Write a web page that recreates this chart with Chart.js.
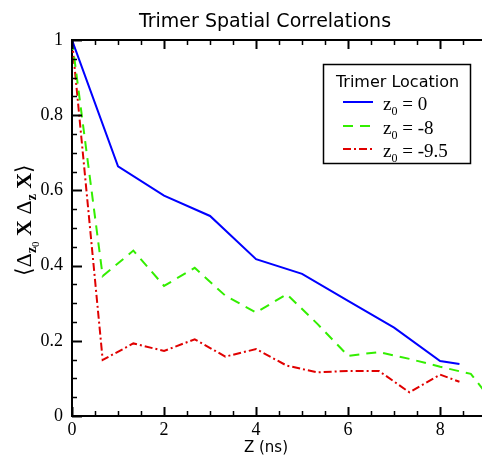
<!DOCTYPE html>
<html>
<head>
<meta charset="utf-8">
<script src="https://cdn.jsdelivr.net/npm/chart.js@4"></script>
<style>
  html, body { margin: 0; padding: 0; background: #fff; }
  #wrap { width: 482px; height: 456px; }
</style>
</head>
<body>
<div id="wrap"><canvas id="grafico" width="482" height="456"></canvas></div>
<script>
// Correlação espacial dos trímeros (Z em ns)
const zLoc0X = [0, 1, 2, 3, 4, 5, 6, 7, 8, 8.42];
const zLoc0Y = [1.0, 0.664, 0.586, 0.532, 0.417, 0.378, 0.306, 0.235, 0.146, 0.138];

const zLoc8X = [0, 0.667, 1.333, 2, 2.667, 3.333, 4, 4.667, 5.333, 6, 6.667, 7.333, 8, 8.667, 9.0];
const zLoc8Y = [1.0, 0.372, 0.440, 0.346, 0.394, 0.320, 0.275, 0.324, 0.245, 0.160, 0.170, 0.152, 0.131, 0.112, 0.060];

const zLoc95X = [0, 0.667, 1.333, 2, 2.667, 3.333, 4, 4.667, 5.333, 6, 6.667, 7.333, 8, 8.42];
const zLoc95Y = [1.0, 0.149, 0.193, 0.173, 0.204, 0.158, 0.178, 0.134, 0.116, 0.120, 0.120, 0.063, 0.110, 0.091];

const rotulos = ["z0 = 0", "z0 = -8", "z0 = -9.5"];
const valoresSub = ["0", "-8", "-9.5"];

const SERIF = "'Liberation Serif', 'Times New Roman', serif";
const SANS = "'DejaVu Sans', sans-serif";

function pares(xs, ys) {
  return xs.map((x, i) => ({ x: x, y: ys[i] }));
}

const estilos = [
  { cor: "#0000ff", dash: [] },
  { cor: "#33ee00", dash: [10, 7] },
  { cor: "#e00000", dash: [8, 3, 2, 3] }
];

// Eixos com ticks internos, borda superior, título, rótulo Y e legenda
const extras = {
  id: "extras",
  afterDraw(chart) {
    const ctx = chart.ctx;
    const a = chart.chartArea;
    const sx = chart.scales.x;
    const sy = chart.scales.y;

    ctx.save();
    ctx.strokeStyle = "#000";

    // borda superior
    ctx.lineWidth = 2;
    ctx.beginPath();
    ctx.moveTo(a.left - 1, a.top);
    ctx.lineTo(a.right, a.top);
    ctx.stroke();

    // ticks do eixo x (baixo e cima)
    for (let v = 0; v <= sx.max + 1e-6; v += 0.5) {
      const px = Math.round(sx.getPixelForValue(v)) + 0.5;
      const major = Math.abs(v / 2 - Math.round(v / 2)) < 1e-6;
      const len = major ? 9 : 5;
      ctx.lineWidth = major ? 2 : 1.5;
      ctx.beginPath();
      ctx.moveTo(px, a.bottom);
      ctx.lineTo(px, a.bottom - len);
      ctx.moveTo(px, a.top);
      ctx.lineTo(px, a.top + len);
      ctx.stroke();
    }

    // ticks do eixo y
    for (let k = 0; k <= 20; k++) {
      const v = k * 0.05;
      const py = Math.round(sy.getPixelForValue(v)) + 0.5;
      const major = k % 4 === 0;
      const len = major ? 10 : 5;
      ctx.lineWidth = major ? 2 : 1.5;
      ctx.beginPath();
      ctx.moveTo(a.left, py);
      ctx.lineTo(a.left + len, py);
      ctx.stroke();
    }

    // título
    ctx.fillStyle = "#000";
    ctx.font = "19px " + SANS;
    ctx.textAlign = "center";
    ctx.textBaseline = "alphabetic";
    ctx.fillText("Trimer Spatial Correlations", 265, 27);

    // título do eixo x
    ctx.font = "15px " + SANS;
    ctx.fillText("Z (ns)", 266, 452);

    // rótulo do eixo y: <Δz0 X Δz X>
    const partes = [
      { t: "\u27E8", f: "22px " + SERIF, dy: 0 },
      { t: "\u0394", f: "22px " + SERIF, dy: 0 },
      { t: "z", f: "bold 14px " + SERIF, dy: 5 },
      { t: "0", f: "11px " + SERIF, dy: 8 },
      { t: " X ", f: "bold 22px " + SERIF, dy: 0 },
      { t: "\u0394", f: "22px " + SERIF, dy: 0 },
      { t: "z", f: "bold 14px " + SERIF, dy: 5 },
      { t: " X", f: "bold 22px " + SERIF, dy: 0 },
      { t: "\u27E9", f: "22px " + SERIF, dy: 0 }
    ];
    let total = 0;
    partes.forEach(p => { ctx.font = p.f; p.w = ctx.measureText(p.t).width; total += p.w; });
    ctx.translate(31, 220);
    ctx.rotate(-Math.PI / 2);
    ctx.textAlign = "left";
    let cx = -total / 2;
    partes.forEach(p => {
      ctx.font = p.f;
      ctx.fillText(p.t, cx, p.dy);
      cx += p.w;
    });
    ctx.setTransform(1, 0, 0, 1, 0, 0);

    // legenda
    const bx = 323, by = 64, bw = 147, bh = 99;
    ctx.fillStyle = "#fff";
    ctx.fillRect(bx, by, bw, bh);
    ctx.lineWidth = 1.5;
    ctx.strokeStyle = "#000";
    ctx.strokeRect(bx + 0.5, by + 0.5, bw, bh);

    ctx.fillStyle = "#000";
    ctx.font = "16px " + SANS;
    ctx.textAlign = "center";
    ctx.fillText("Trimer Location", bx + bw / 2 + 1, 87);

    const linhasY = [102, 126, 149];
    chart.data.datasets.forEach((ds, i) => {
      const y = linhasY[i];
      ctx.strokeStyle = ds.borderColor;
      ctx.lineWidth = 2;
      ctx.setLineDash(ds.borderDash || []);
      ctx.beginPath();
      ctx.moveTo(343, y);
      ctx.lineTo(373, y);
      ctx.stroke();
      ctx.setLineDash([]);

      ctx.fillStyle = "#000";
      ctx.textAlign = "left";
      let tx = 383;
      ctx.font = "19px " + SERIF;
      ctx.fillText("z", tx, y + 8);
      tx += ctx.measureText("z").width;
      ctx.font = "12px " + SERIF;
      ctx.fillText("0", tx, y + 13);
      tx += ctx.measureText("0").width;
      ctx.font = "19px " + SERIF;
      ctx.fillText(" = " + valoresSub[i], tx, y + 8);
    });

    ctx.restore();
  }
};

const ctx = document.getElementById("grafico");
new Chart(ctx, {
  type: "line",
  data: {
    datasets: [
      { label: rotulos[0], data: pares(zLoc0X, zLoc0Y) },
      { label: rotulos[1], data: pares(zLoc8X, zLoc8Y) },
      { label: rotulos[2], data: pares(zLoc95X, zLoc95Y) }
    ].map((d, i) => Object.assign(d, {
      borderColor: estilos[i].cor,
      borderDash: estilos[i].dash,
      borderWidth: 2,
      pointRadius: 0,
      tension: 0,
      fill: false
    }))
  },
  options: {
    responsive: false,
    animation: false,
    layout: { padding: { top: 40, left: 0, right: 0, bottom: 0 } },
    plugins: { legend: { display: false }, tooltip: { enabled: false } },
    scales: {
      x: {
        type: "linear",
        min: 0,
        max: 8.91,
        grid: { display: false, drawTicks: false },
        border: { display: true, color: "#000", width: 2 },
        ticks: {
          stepSize: 2,
          includeBounds: false,
          color: "#000",
          padding: 3,
          font: { family: SERIF, size: 18 }
        },
        afterFit(scale) { scale.height = 40; }
      },
      y: {
        min: 0,
        max: 1,
        grid: { display: false, drawTicks: false },
        border: { display: true, color: "#000", width: 2 },
        ticks: {
          stepSize: 0.2,
          color: "#000",
          padding: 9,
          font: { family: SERIF, size: 18 },
          callback: v => String(+v.toFixed(2))
        },
        afterFit(scale) { scale.width = 72; }
      }
    }
  },
  plugins: [extras]
});
</script>
</body>
</html>
